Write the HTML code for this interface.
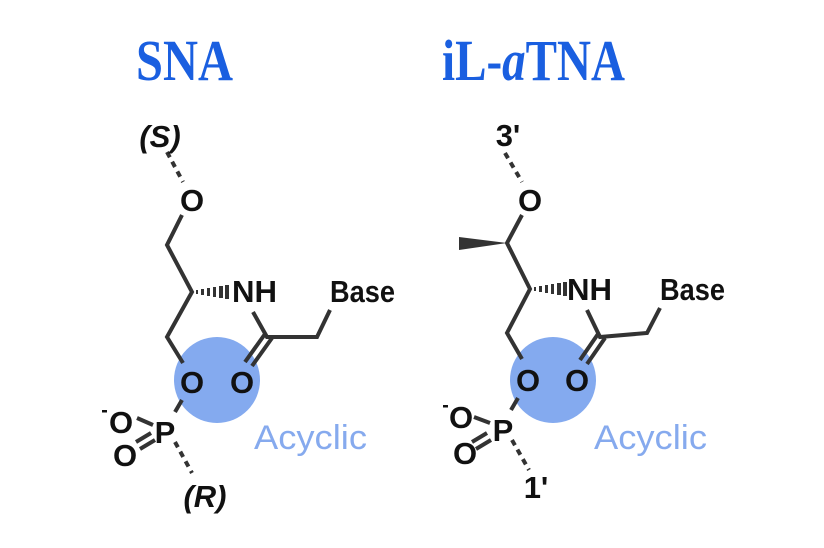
<!DOCTYPE html>
<html><head><meta charset="utf-8"><style>
html,body{margin:0;padding:0;background:#fff;}
svg{display:block;}
.a{font-family:"Liberation Sans",sans-serif;font-weight:bold;font-size:31px;fill:#111;}
.t{font-family:"Liberation Serif",serif;font-weight:bold;font-size:58px;fill:#1a5fe0;}
.ac{font-family:"Liberation Sans",sans-serif;font-size:34px;fill:#86aaee;}
</style></head><body>
<svg width="824" height="548" viewBox="0 0 824 548" xmlns="http://www.w3.org/2000/svg">
<rect width="824" height="548" fill="#fff"/>
<text class="t" x="136" y="80" textLength="97" lengthAdjust="spacingAndGlyphs">SNA</text>
<text class="t" x="442" y="80" textLength="183" lengthAdjust="spacingAndGlyphs">iL-<tspan font-style="italic">a</tspan>TNA</text>

<!-- LEFT -->
<circle cx="217" cy="380" r="43" fill="#84aaef"/>
<g stroke="#333" stroke-width="4" fill="none" stroke-linecap="butt">
<line x1="167" y1="152" x2="183" y2="182" stroke-dasharray="6,5"/>
<polyline points="182,215 167,245 192,292 167,337 183,363"/>
<line x1="182" y1="400" x2="175" y2="412"/>
<line x1="137" y1="418" x2="153" y2="425"/>
<line x1="140" y1="449" x2="155" y2="440"/>
<line x1="136" y1="442" x2="151" y2="433"/>
<line x1="175" y1="442" x2="192" y2="473" stroke-dasharray="6,5"/>
<polyline points="253,312 267,337 317,337 330,310"/>
<line x1="265" y1="334" x2="245" y2="362"/>
<line x1="272" y1="338" x2="252" y2="366"/>
</g>
<g fill="#333">
<rect x="196" y="290" width="2" height="4"/><rect x="201" y="289" width="3" height="6"/><rect x="207" y="288" width="3" height="8"/><rect x="213" y="287" width="3" height="10"/><rect x="219" y="286" width="4" height="12"/><rect x="225" y="285" width="4" height="14"/>
</g>
<text class="a" x="160" y="147" text-anchor="middle" font-style="italic" font-size="26">(S)</text>
<text class="a" x="192" y="211" text-anchor="middle">O</text>
<text class="a" x="232" y="302" textLength="45" lengthAdjust="spacingAndGlyphs">NH</text>
<text class="a" x="330" y="302" textLength="65" lengthAdjust="spacingAndGlyphs">Base</text>
<text class="a" x="192" y="393" text-anchor="middle">O</text>
<text class="a" x="242" y="393" text-anchor="middle">O</text>
<text class="a" x="165" y="443" text-anchor="middle">P</text>
<text class="a" x="121" y="433" text-anchor="middle">O</text>
<rect x="102" y="410" width="5" height="2.5" fill="#111"/>
<text class="a" x="125" y="466" text-anchor="middle">O</text>
<text class="a" x="205" y="507" text-anchor="middle" font-style="italic" font-size="26">(R)</text>
<text class="ac" x="254" y="449" textLength="113" lengthAdjust="spacingAndGlyphs">Acyclic</text>

<!-- RIGHT -->
<circle cx="553" cy="380" r="43" fill="#84aaef"/>
<g stroke="#333" stroke-width="4" fill="none">
<line x1="505" y1="153" x2="522" y2="182" stroke-dasharray="6,5"/>
<polyline points="522,215 507,243 530,289 507,333 522,359"/>
<line x1="518" y1="398" x2="511" y2="410"/>
<line x1="474" y1="417" x2="490" y2="423"/>
<line x1="476" y1="449" x2="491" y2="440"/>
<line x1="472" y1="442" x2="487" y2="433"/>
<line x1="512" y1="440" x2="529" y2="470" stroke-dasharray="6,5"/>
<polyline points="587,310 600,337 647,333 660,308"/>
<line x1="598" y1="334" x2="580" y2="360"/>
<line x1="605" y1="338" x2="587" y2="364"/>
</g>
<polygon points="507,243 459,237 459,250" fill="#333"/>
<g fill="#333">
<rect x="534" y="287" width="2" height="4"/><rect x="539" y="286" width="3" height="6"/><rect x="545" y="285" width="3" height="8"/><rect x="551" y="284" width="3" height="10"/><rect x="557" y="283" width="4" height="12"/><rect x="563" y="282" width="4" height="14"/>
</g>
<text class="a" x="508" y="146" text-anchor="middle">3'</text>
<text class="a" x="530" y="211" text-anchor="middle">O</text>
<text class="a" x="567" y="300" textLength="45" lengthAdjust="spacingAndGlyphs">NH</text>
<text class="a" x="660" y="300" textLength="65" lengthAdjust="spacingAndGlyphs">Base</text>
<text class="a" x="528" y="391" text-anchor="middle">O</text>
<text class="a" x="577" y="391" text-anchor="middle">O</text>
<text class="a" x="503" y="441" text-anchor="middle">P</text>
<text class="a" x="461" y="428" text-anchor="middle">O</text>
<rect x="443" y="405" width="5" height="2.5" fill="#111"/>
<text class="a" x="465" y="464" text-anchor="middle">O</text>
<text class="a" x="536" y="498" text-anchor="middle">1'</text>
<text class="ac" x="594" y="449" textLength="113" lengthAdjust="spacingAndGlyphs">Acyclic</text>
</svg>
</body></html>
